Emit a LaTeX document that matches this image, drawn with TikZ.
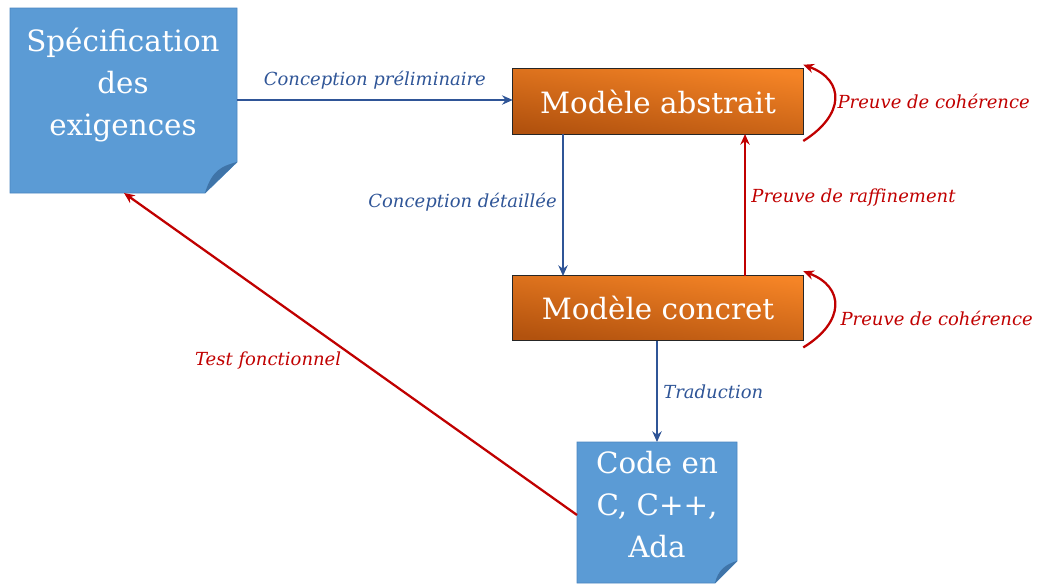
\documentclass[tikz,border=0pt]{standalone}
\usepackage{fontspec}
\setmainfont{DejaVu Serif}
\usetikzlibrary{arrows.meta,backgrounds}
\definecolor{boxblue}{HTML}{5B9BD5}
\definecolor{boxblueedge}{HTML}{4A86C0}
\definecolor{folddark}{HTML}{3F74A8}
\definecolor{orlight}{HTML}{F58426}
\definecolor{ordark}{HTML}{B2520E}
\definecolor{arrblue}{HTML}{2F5597}
\definecolor{arrred}{HTML}{C00000}
\definecolor{lblblue}{HTML}{2F5597}
\definecolor{lblred}{HTML}{C00000}
\begin{document}
\begin{tikzpicture}[x=0.75pt,y=-0.75pt,
  notetxt/.style={text=white,align=center,font=\fontsize{22}{31.5}\selectfont,inner sep=0pt},
  modelbox/.style={minimum width=290*0.75pt,minimum height=65*0.75pt,inner sep=0pt,text=white,font=\fontsize{22}{24}\selectfont},
  bluearr/.style={draw=arrblue,line width=1.5pt,-{Stealth[length=8pt,width=7pt]}},
  redarr/.style={draw=arrred,line width=1.7pt,-{Stealth[length=8pt,width=7pt]}},
  bluelbl/.style={text=lblblue,font=\itshape\fontsize{13.5}{15}\selectfont,inner sep=1pt},
  redlbl/.style={text=lblred,font=\itshape\fontsize{13.5}{15}\selectfont,inner sep=1pt}]
\useasboundingbox (0,0) rectangle (1048,583);

% shapes
\node[notetxt] (spec) at (123,85) {Spécification\\des\\exigences};
\node[notetxt] (code) at (657,505) {Code en\\C, C++,\\Ada};
\node[modelbox] (abs) at (658,101.5) {Modèle abstrait};
\node[modelbox] (conc) at (658,308) {Modèle concret};

\coordinate (specR) at (237,100);
\coordinate (specB) at (124,193);
\coordinate (codeT) at (657,442);
\coordinate (codeL) at (577,515);

\begin{scope}[on background layer]
  % specification note
  \fill[boxblue,draw=boxblueedge,line width=0.6pt] (10,8) -- (237,8) -- (237,162) -- (205,193) -- (10,193) -- cycle;
  \fill[folddark] (205,193) -- (237,162) .. controls (222,166) and (212,170) .. (205,193);
  % code note
  \fill[boxblue,draw=boxblueedge,line width=0.6pt] (577,442) -- (737,442) -- (737,561) -- (715,583) -- (577,583) -- cycle;
  \fill[folddark] (715,583) -- (737,561) .. controls (726,564) and (718,570) .. (715,583);
  % model boxes
  \shade[top color=orlight,bottom color=ordark,shading angle=-8] (abs.south west) rectangle (abs.north east);
  \draw[black!85,line width=1pt] (abs.south west) rectangle (abs.north east);
  \shade[top color=orlight,bottom color=ordark,shading angle=-8] (conc.south west) rectangle (conc.north east);
  \draw[black!85,line width=1pt] (conc.south west) rectangle (conc.north east);
\end{scope}

% connectors
\draw[bluearr] (specR) -- (abs.west |- specR) node[midway,above=6pt,bluelbl] (l1) {Conception préliminaire};
\draw[bluearr] (563,134) -- (563,276) coordinate (cd) node[pos=0.48,left=3pt,bluelbl] (l2) {Conception détaillée};
\draw[redarr] (745,276) -- (745,134) node[pos=0.55,right=3pt,redlbl] (l3) {Preuve de raffinement};
\draw[bluearr] (conc.south -| codeT) -- (codeT) node[midway,right=3pt,bluelbl] (l4) {Traduction};
\draw[redarr] (codeL) -- (specB) node[pos=0.48,anchor=east,xshift=-12pt,redlbl] (l5) {Test fonctionnel};

% self loops
\draw[redarr] ([yshift=-5]abs.south east) .. controls (845,115) and (845,80) .. ([yshift=3]abs.north east);
\node[redlbl,anchor=west] (c1) at (836,101) {Preuve de cohérence};
\draw[redarr] ([yshift=-5]conc.south east) .. controls (845,322) and (845,287) .. ([yshift=3]conc.north east);
\node[redlbl,anchor=west] (c2) at (839,318) {Preuve de cohérence};
\end{tikzpicture}
\end{document}
